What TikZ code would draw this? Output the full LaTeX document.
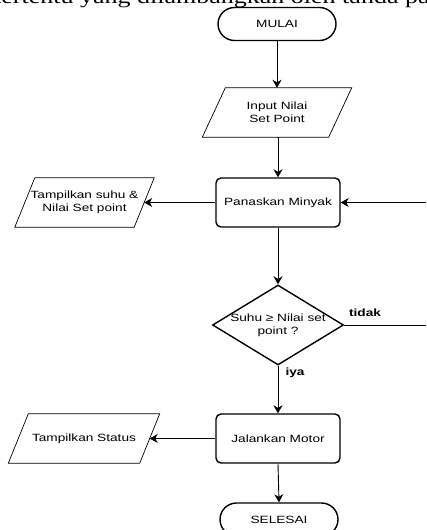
\documentclass[tikz,border=0pt]{standalone}
\usepackage{fontspec}
\newfontfamily\diagfont[FakeStretch=1.3]{Liberation Sans}
\newfontfamily\headfont[FakeStretch=1.3]{Liberation Serif}
\usetikzlibrary{shapes.geometric,shapes.misc,arrows.meta}
\begin{document}
\begin{tikzpicture}[x=1pt,y=-1pt,
  every node/.style={font=\diagfont\fontsize{10.5}{12.6}\selectfont, align=center},
  term/.style={draw, line width=1.4pt, rounded rectangle, minimum width=118pt, minimum height=33pt, inner sep=0pt},
  proc/.style={draw, line width=1.4pt, rounded corners=5pt, minimum width=124pt, minimum height=49pt, inner sep=0pt},
  io/.style={inner sep=0pt, minimum height=49pt},
  para/.style={draw, line width=0.7pt, line join=miter},
  decbox/.style={draw, line width=1.4pt, diamond, minimum width=131pt, minimum height=80pt, inner sep=0pt},
  arr/.style={draw, line width=0.9pt, -{Stealth[length=8pt,width=9pt,inset=2.5pt]}},
  lbl/.style={font=\diagfont\bfseries\fontsize{10.5}{12.6}\selectfont}
]
\clip (0,0) rectangle (426,530);
\useasboundingbox (0,0) rectangle (426,530);
\node[font=\headfont\fontsize{20}{24}\selectfont, anchor=base west, inner sep=0pt] (head) at (-6,4) {tertentu yang dilambangkan oleh tanda panah};

\node[term] (mulai) at (277,24) {MULAI};
\node[io, minimum width=126pt] (input) at (277,112.5) {Input Nilai\\Set Point};
\draw[para] ([xshift=-11.5pt]input.south west) -- ([xshift=11.5pt]input.north west) -- ([xshift=11.5pt]input.north east) -- ([xshift=-11.5pt]input.south east) -- cycle;
\node[proc] (panas) at (278,202.5) {Panaskan Minyak};
\node[io, minimum width=119pt] (tsuhu) at (84.5,202.5) {Tampilkan suhu \&\\Nilai Set point};
\draw[para] ([xshift=-10pt]tsuhu.south west) -- ([xshift=10pt]tsuhu.north west) -- ([xshift=10pt]tsuhu.north east) -- ([xshift=-10pt]tsuhu.south east) -- cycle;
\node[decbox] (dec) at (278,325) {};
\node (dectext) at (278,325) {Suhu ≥ Nilai set\\point ?};
\node[proc] (jalan) at (278,438.5) {Jalankan Motor};
\node[io, minimum width=131pt] (tstat) at (84,438.5) {Tampilkan Status};
\draw[para] ([xshift=-10pt]tstat.south west) -- ([xshift=10pt]tstat.north west) -- ([xshift=10pt]tstat.north east) -- ([xshift=-10pt]tstat.south east) -- cycle;
\node[term] (selesai) at (279,519.5) {SELESAI};

\node[lbl] (tidak) at (365,313) {tidak};
\node[lbl] (iya) at (295,373) {iya};

\coordinate (rin) at (428,202.5);
\coordinate (rout) at (428,325);

\draw[arr] (mulai.south) -- (mulai.south |- input.north);
\draw[arr] (input.south) -- (input.south -| panas.north) -- (panas.north);
\draw[arr] (panas.west) -- (tsuhu.east);
\draw[arr] (rin) -- (panas.east);
\draw[arr] (panas.south) -- (dec.north);
\draw[line width=0.9pt] (dec.east) -- (rout);
\draw[arr] (dec.south) -- (jalan.north);
\draw[arr] (jalan.west) -- (tstat.east);
\draw[arr] (jalan.south) -- (selesai.north);
\end{tikzpicture}
\end{document}
